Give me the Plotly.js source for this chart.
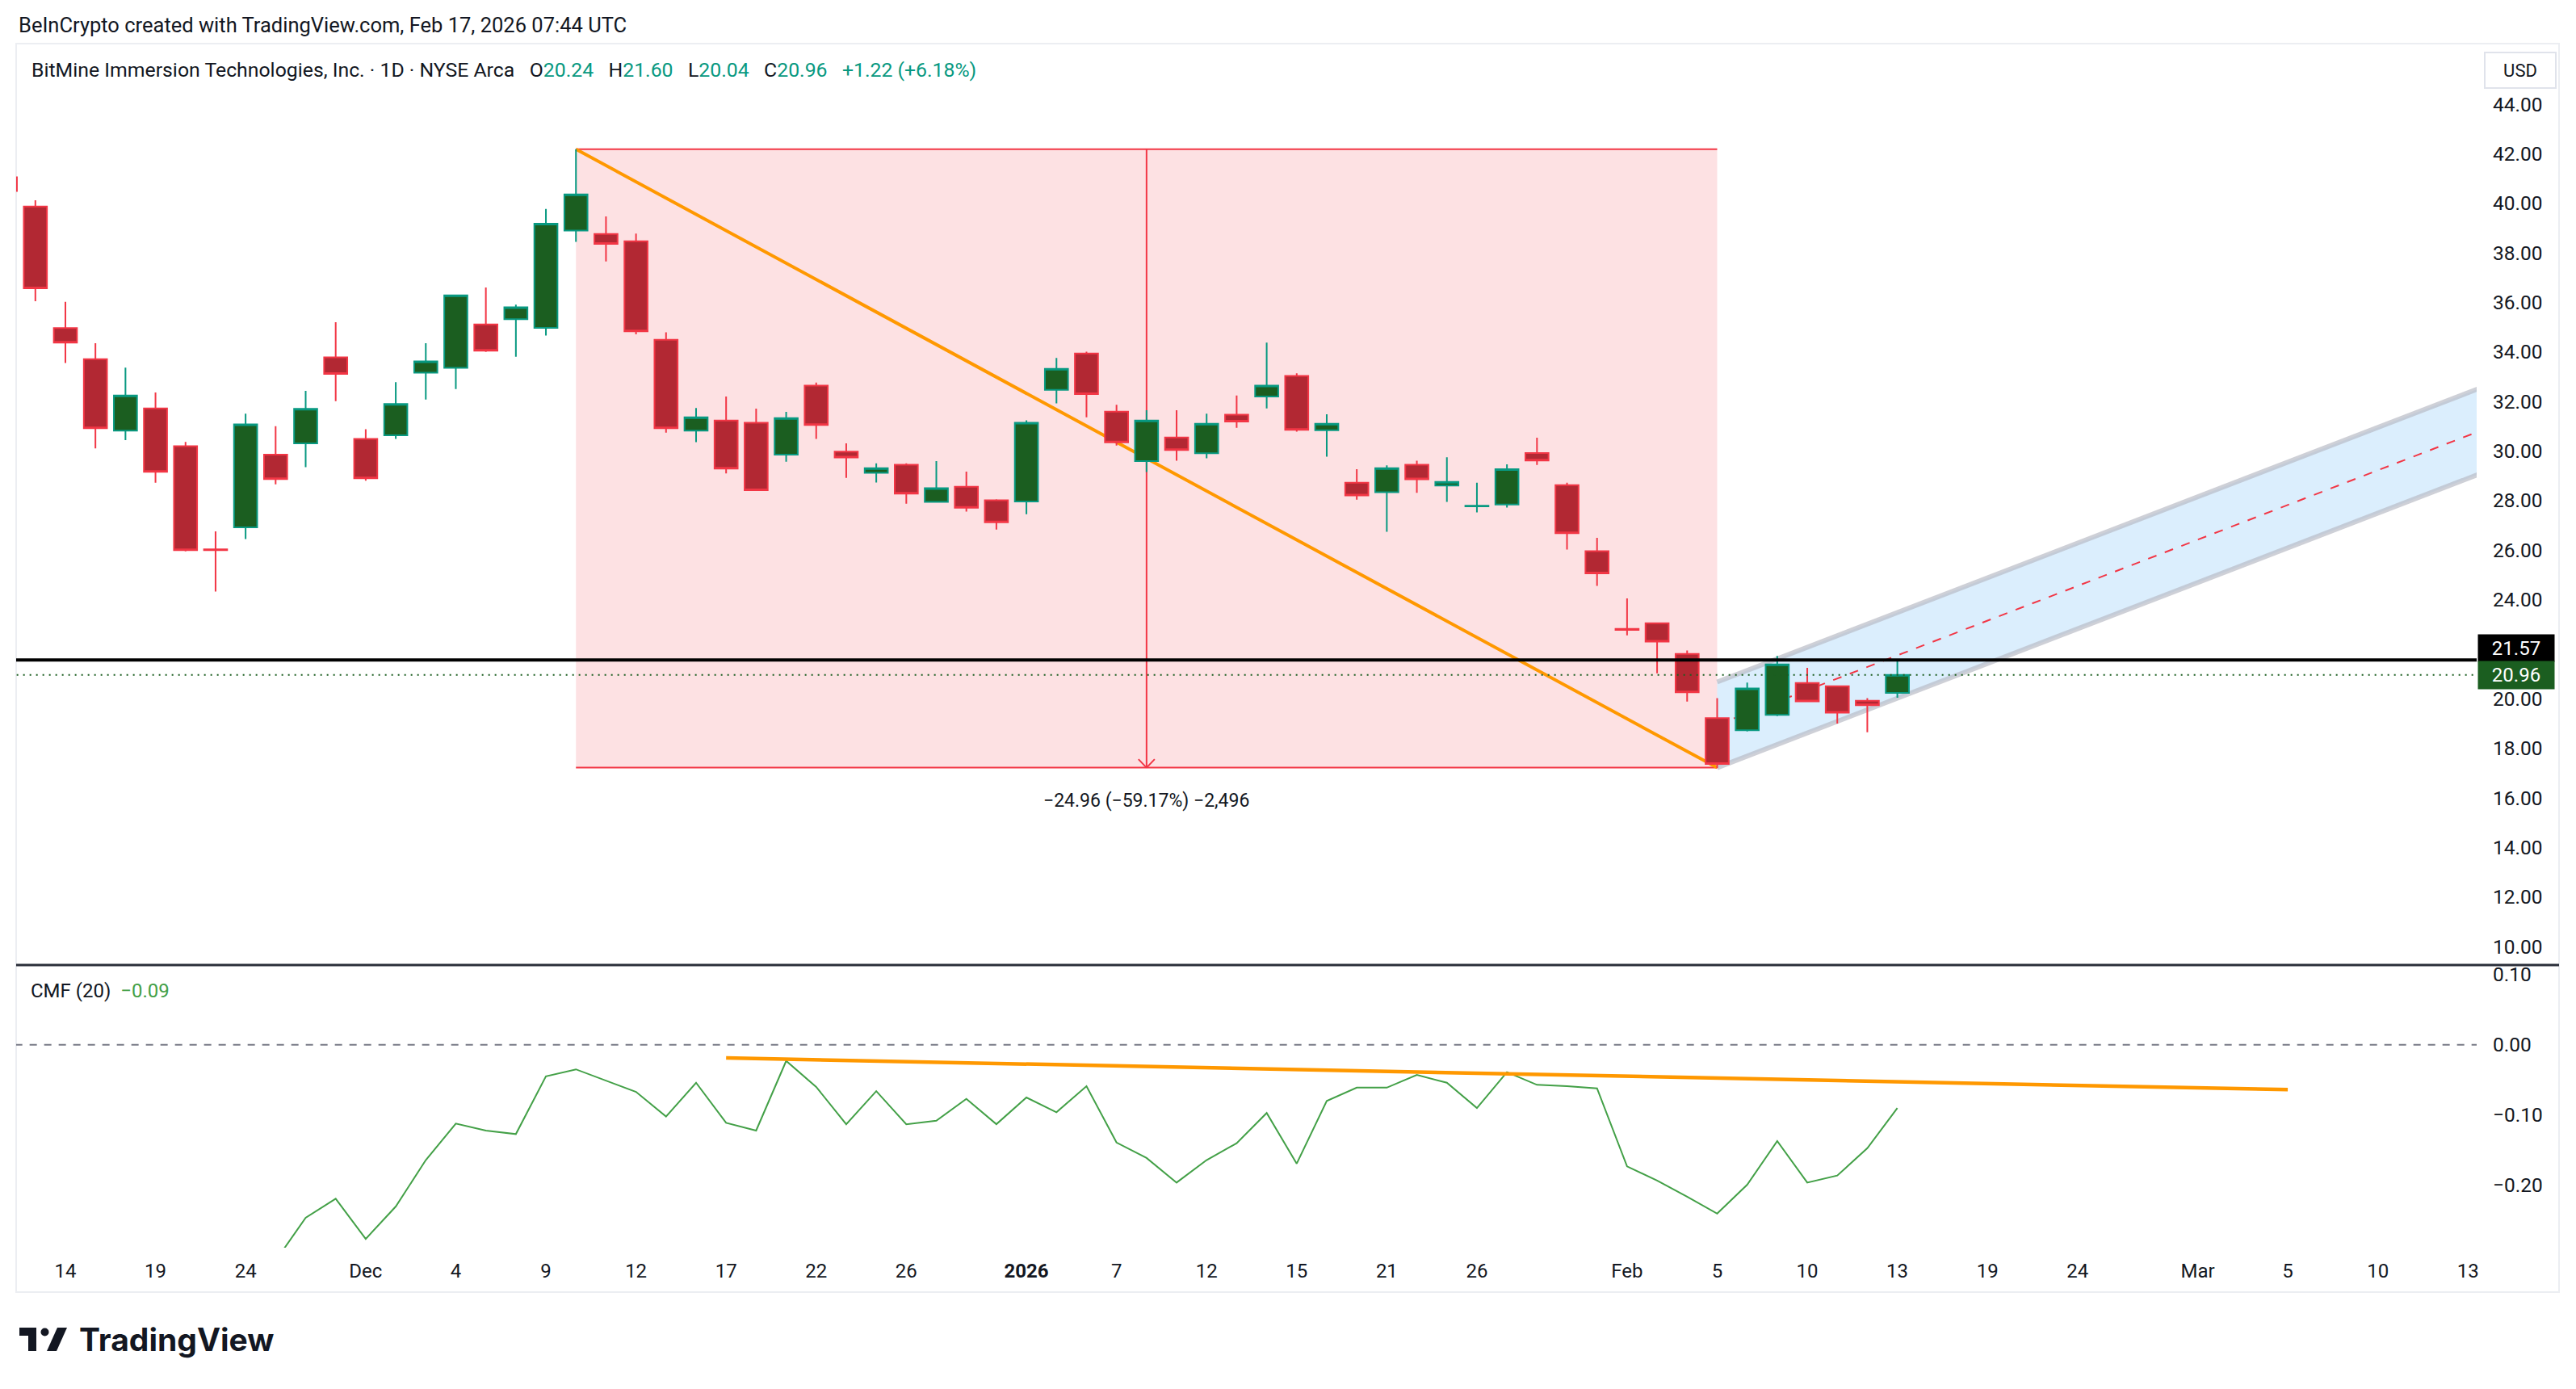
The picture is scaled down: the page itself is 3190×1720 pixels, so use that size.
<!DOCTYPE html>
<html><head><meta charset="utf-8">
<script src="https://cdn.plot.ly/plotly-3.0.1.min.js"></script>
<style>html,body{margin:0;padding:0;background:#fff;}#chart{width:3190px;height:1720px;}</style>
</head><body><div id="chart"></div>
<script>
// ---------------- data ----------------
const dates = ["2025-11-12","2025-11-13","2025-11-14","2025-11-17","2025-11-18","2025-11-19","2025-11-20","2025-11-21","2025-11-24","2025-11-25","2025-11-26","2025-11-28",
"2025-12-01","2025-12-02","2025-12-03","2025-12-04","2025-12-05","2025-12-08","2025-12-09","2025-12-10","2025-12-11","2025-12-12","2025-12-15","2025-12-16","2025-12-17","2025-12-18","2025-12-19","2025-12-22","2025-12-23","2025-12-24","2025-12-26","2025-12-29","2025-12-30","2025-12-31",
"2026-01-02","2026-01-05","2026-01-06","2026-01-07","2026-01-08","2026-01-09","2026-01-12","2026-01-13","2026-01-14","2026-01-15","2026-01-16","2026-01-20","2026-01-21","2026-01-22","2026-01-23","2026-01-26","2026-01-27","2026-01-28","2026-01-29","2026-01-30",
"2026-02-02","2026-02-03","2026-02-04","2026-02-05","2026-02-06","2026-02-09","2026-02-10","2026-02-11","2026-02-12","2026-02-13"];
const openP  = [41.05,39.87,34.96,33.71,30.82,31.72,30.20,26.03,26.92,29.85,30.31,33.78,30.49,30.64,33.16,33.36,35.11,35.32,34.97,38.90,38.76,38.47,34.49,30.82,31.23,31.14,29.85,32.64,29.98,29.12,29.45,27.95,28.56,28.01,27.96,32.47,33.94,31.59,29.59,30.55,29.91,31.47,32.20,33.03,30.84,28.72,28.34,29.45,28.61,27.77,27.84,29.92,28.62,25.96,22.82,23.05,21.81,19.22,18.73,19.35,20.64,20.51,19.92,20.24];
const highP  = [41.50,40.12,36.02,34.35,33.37,32.36,30.37,26.76,31.51,31.00,32.43,35.20,30.88,32.78,34.35,36.30,36.60,35.91,39.77,42.18,39.47,38.78,34.79,31.74,32.20,31.71,31.58,32.76,30.31,29.50,29.50,29.59,29.17,28.05,31.24,33.76,34.01,31.87,31.65,31.65,31.51,32.24,34.38,33.14,31.48,29.27,29.42,29.61,29.75,28.72,29.46,30.54,28.72,26.50,24.05,23.06,21.95,20.03,20.65,21.73,21.25,20.52,20.03,21.60];
const lowP   = [40.30,36.05,33.55,30.11,30.44,28.72,25.95,24.33,26.45,28.66,29.35,32.01,28.80,30.49,32.08,32.50,34.00,33.81,34.66,38.44,37.65,34.71,30.74,30.36,29.10,28.40,29.57,30.49,28.92,28.73,27.87,27.94,27.56,26.83,27.45,31.92,31.36,30.22,29.15,29.61,29.71,30.94,31.72,30.78,29.77,28.04,26.74,28.31,27.95,27.52,27.72,29.44,26.02,24.56,22.56,21.03,19.89,17.20,18.68,19.30,19.88,19.00,18.65,20.04];
const closeP = [40.50,36.57,34.38,30.92,32.24,29.16,26.00,26.00,31.08,28.87,31.70,33.11,28.90,31.90,33.62,36.28,34.05,35.80,39.18,40.36,38.36,34.83,30.92,31.36,29.29,28.42,31.33,31.05,29.74,29.31,28.28,28.50,27.71,27.12,31.14,33.32,32.30,30.35,31.23,30.04,31.10,31.19,32.64,30.86,31.10,28.21,29.31,28.86,28.75,27.79,29.27,29.62,26.68,25.06,22.78,22.31,20.26,17.37,20.42,21.39,19.90,19.44,19.74,20.96];

// CMF(20) values, first bar index 9
const cmfStart = 9;
const cmfValues = [-0.307,-0.246,-0.219,-0.276,-0.230,-0.164,-0.112,-0.122,-0.127,-0.045,-0.035,-0.051,-0.067,-0.102,-0.054,-0.111,-0.122,-0.023,-0.060,-0.113,-0.066,-0.113,-0.108,-0.077,-0.113,-0.075,-0.096,-0.059,-0.139,-0.161,-0.196,-0.164,-0.140,-0.097,-0.169,-0.080,-0.061,-0.061,-0.043,-0.054,-0.090,-0.039,-0.057,-0.059,-0.062,-0.173,-0.193,-0.216,-0.240,-0.199,-0.137,-0.196,-0.186,-0.147,-0.090];

// time axis (trading-day index) labels
const tickIndex = [2,5,8,12,15,18,21,24,27,30,34,37,40,43,46,49,54,57,60,63,66,69,73,76,79,82];
const tickText  = ["14","19","24","Dec","4","9","12","17","22","26","<b>2026</b>","7","12","15","21","26","Feb","5","10","13","19","24","Mar","5","10","13"];
const priceTicks = [10,12,14,16,18,20,22,24,26,28,30,32,34,36,38,40,42,44];
const cmfTicks = [-0.2,-0.1,0,0.1];

// drawings
const rangeIdx = [19,57];          // price-range box start/end bars
const rangePrice = [42.18,17.22];  // top / bottom
const trendIdx = [19,57];          // orange falling line
const trendPrice = [42.18,17.22];
const hLevel = 21.57;              // horizontal level
const channelIdx = [57,90];
const channelLow = [17.22,32.63];  // lower rail
const channelHigh = [20.68,36.09]; // upper rail
const cmfTrendIdx = [24,76];
const cmfTrendVal = [-0.0188,-0.0639];

// ---------------- build ----------------
const W=3190,H=1720;
const px=x=>x/W, py=y=>1-y/H;
const barIndex = dates.map((d,i)=>i);
const cmfIndex = cmfValues.map((v,i)=>i+cmfStart);
const last = closeP.length-1;
const FONT = "Roboto, 'Noto Sans', sans-serif";
const TXT = '#131722', UP='#089981', DN='#f23645';

const traces = [
 {type:'candlestick', x:barIndex, open:openP, high:highP, low:lowP, close:closeP, xaxis:'x', yaxis:'y',
  increasing:{line:{color:UP,width:2}, fillcolor:'#1b5e20'},
  decreasing:{line:{color:DN,width:2}, fillcolor:'#b22833'},
  whiskerwidth:0, hoverinfo:'skip', showlegend:false},
 {type:'scatter', mode:'lines', x:cmfIndex, y:cmfValues, xaxis:'x', yaxis:'y2', line:{color:'#43a047',width:2}, hoverinfo:'skip', showlegend:false},
 {type:'scatter', mode:'lines', x:cmfTrendIdx, y:cmfTrendVal, xaxis:'x', yaxis:'y2', line:{color:'#ff9800',width:4.5}, hoverinfo:'skip', showlegend:false}
];

const midIdx = (rangeIdx[0]+rangeIdx[1])/2;
const shapes = [
 // frame
 {type:'rect', xref:'paper', yref:'paper', x0:px(20), x1:px(3169), y0:py(1600), y1:py(54), line:{color:'#eceef2',width:2}, layer:'below'},
 // price range box
 {type:'rect', xref:'x', yref:'y', x0:rangeIdx[0], x1:rangeIdx[1], y0:rangePrice[1], y1:rangePrice[0], fillcolor:'rgba(242,54,69,0.15)', line:{width:0}, layer:'below'},
 {type:'line', xref:'x', yref:'y', x0:rangeIdx[0], x1:rangeIdx[1], y0:rangePrice[0], y1:rangePrice[0], line:{color:DN,width:2}, layer:'below'},
 {type:'line', xref:'x', yref:'y', x0:rangeIdx[0], x1:rangeIdx[1], y0:rangePrice[1], y1:rangePrice[1], line:{color:DN,width:2}, layer:'below'},
 {type:'line', xref:'x', yref:'y', x0:midIdx, x1:midIdx, y0:rangePrice[0], y1:rangePrice[1], line:{color:DN,width:2}, layer:'below'},
 {type:'line', xref:'x', yref:'y', x0:midIdx-0.27, x1:midIdx, y0:rangePrice[1]+0.34, y1:rangePrice[1], line:{color:DN,width:2}, layer:'below'},
 {type:'line', xref:'x', yref:'y', x0:midIdx+0.27, x1:midIdx, y0:rangePrice[1]+0.34, y1:rangePrice[1], line:{color:DN,width:2}, layer:'below'},
 // orange trend
 {type:'line', xref:'x', yref:'y', x0:trendIdx[0], x1:trendIdx[1], y0:trendPrice[0], y1:trendPrice[1], line:{color:'#ff9800',width:4}, layer:'below'},
 // channel
 {type:'path', xref:'x', yref:'y', path:`M${channelIdx[0]},${channelLow[0]} L${channelIdx[1]},${channelLow[1]} L${channelIdx[1]},${channelHigh[1]} L${channelIdx[0]},${channelHigh[0]} Z`, fillcolor:'rgba(33,150,243,0.16)', line:{width:0}, layer:'below'},
 {type:'line', xref:'x', yref:'y', x0:channelIdx[0], x1:channelIdx[1], y0:channelHigh[0], y1:channelHigh[1], line:{color:'rgba(185,188,198,0.7)',width:6}, layer:'below'},
 {type:'line', xref:'x', yref:'y', x0:channelIdx[0], x1:channelIdx[1], y0:channelLow[0], y1:channelLow[1], line:{color:'rgba(185,188,198,0.7)',width:6}, layer:'below'},
 {type:'line', xref:'x', yref:'y', x0:channelIdx[0], x1:channelIdx[1], y0:(channelLow[0]+channelHigh[0])/2, y1:(channelLow[1]+channelHigh[1])/2, line:{color:DN,width:2,dash:'11px,11px'}, layer:'below'},
 // horizontal level + last price line
 {type:'line', xref:'x', yref:'y', x0:-5, x1:95, y0:hLevel, y1:hLevel, line:{color:'#000000',width:4}, layer:'above'},
 {type:'line', xref:'x', yref:'y', x0:-5, x1:95, y0:closeP[last], y1:closeP[last], line:{color:'#1b5e20',width:2,dash:'2px,6px'}, layer:'above'},
 // CMF zero line
 {type:'line', xref:'x', yref:'y2', x0:-5, x1:95, y0:0, y1:0, line:{color:'#787b86',width:2,dash:'9px,9px'}, layer:'below'},
 // pane divider
 {type:'line', xref:'paper', yref:'paper', x0:px(20), x1:px(3169), y0:py(1195), y1:py(1195), line:{color:'#2a2e39',width:3}},
 // TradingView logo
 {type:'path', xref:'paper', yref:'paper', path:`M${px(24)},${py(1644)} H${px(45)} V${py(1673)} H${px(35)} V${py(1654)} H${px(24)} Z`, fillcolor:'#131722', line:{width:0}},
 {type:'circle', xref:'paper', yref:'paper', x0:px(50.5), x1:px(60.5), y0:py(1654.5), y1:py(1644.5), fillcolor:'#131722', line:{width:0}},
 {type:'path', xref:'paper', yref:'paper', path:`M${px(71)},${py(1644)} H${px(83)} L${px(70)},${py(1673)} H${px(58)} Z`, fillcolor:'#131722', line:{width:0}}
];

const sp = '&nbsp;&nbsp;&nbsp;';
const g = v => `<span style="color:${UP}">${v}</span>`;
const chg = closeP[last]-closeP[last-1];
const chgPct = chg/closeP[last-1]*100;
const legendText = `BitMine Immersion Technologies, Inc. · 1D · NYSE Arca${sp}O${g(openP[last].toFixed(2))}${sp}H${g(highP[last].toFixed(2))}${sp}L${g(lowP[last].toFixed(2))}${sp}C${g(closeP[last].toFixed(2))}${sp}${g((chg>=0?'+':'−')+Math.abs(chg).toFixed(2)+' ('+(chg>=0?'+':'−')+Math.abs(chgPct).toFixed(2)+'%)')}`;
const rDiff = rangePrice[1]-rangePrice[0];
const rPct = rDiff/rangePrice[0]*100;
const fmtNum = n => Math.abs(n).toLocaleString('en-US');
const rangeText = `−${Math.abs(rDiff).toFixed(2)} (−${Math.abs(rPct).toFixed(2)}%) −${fmtNum(Math.round(Math.abs(rDiff)*100))}`;
const cmfLast = cmfValues[cmfValues.length-1];

const annotations = [
 {xref:'paper', yref:'paper', x:px(21), y:py(31), xanchor:'left', yanchor:'middle', showarrow:false, text:'BeInCrypto created with TradingView.com, Feb 17, 2026 07:44 UTC', font:{family:FONT,size:25.5,color:TXT}},
 {xref:'paper', yref:'paper', x:px(37), y:py(86), xanchor:'left', yanchor:'middle', showarrow:false, text:legendText, font:{family:FONT,size:24.8,color:TXT}},
 {xref:'paper', yref:'paper', x:px(3121), y:py(87), xanchor:'center', yanchor:'middle', showarrow:false, text:'USD', width:86, height:42, bgcolor:'#ffffff', bordercolor:'#e0e3eb', borderwidth:2, borderpad:0, font:{family:FONT,size:22,color:TXT}},
 {xref:'paper', yref:'y', x:px(3068), y:hLevel, yshift:15, xanchor:'left', yanchor:'middle', showarrow:false, text:hLevel.toFixed(2), width:94, height:33, bgcolor:'#000000', borderpad:0, font:{family:FONT,size:24,color:'#ffffff'}},
 {xref:'paper', yref:'y', x:px(3068), y:closeP[last], xanchor:'left', yanchor:'middle', showarrow:false, text:closeP[last].toFixed(2), width:94, height:34, bgcolor:'#1b5e20', borderpad:0, font:{family:FONT,size:24,color:'#ffffff'}},
 {xref:'x', yref:'y', x:midIdx, y:rangePrice[1], yshift:-41, xanchor:'center', yanchor:'middle', showarrow:false, text:rangeText, font:{family:FONT,size:23,color:TXT}},
 {xref:'paper', yref:'paper', x:px(36), y:py(1227), xanchor:'left', yanchor:'middle', showarrow:false, text:`CMF (20)&nbsp;&nbsp;<span style="color:#43a047">${cmfLast<0?'−':''}${Math.abs(cmfLast).toFixed(2)}</span>`, font:{family:FONT,size:24,color:TXT}},
 {xref:'paper', yref:'paper', x:px(96), y:py(1658), xanchor:'left', yanchor:'middle', showarrow:false, text:'TradingView', font:{family:"Inter, Roboto, sans-serif",size:39,weight:700,color:'#131722'}}
];

const layout = {
 width:W, height:H, margin:{l:0,r:0,t:0,b:0}, paper_bgcolor:'#ffffff', plot_bgcolor:'#ffffff',
 showlegend:false, boxgap:0.23, boxgroupgap:0,
 font:{family:FONT,size:24,color:TXT},
 xaxis:{domain:[px(20),px(3067)], range:[0.36,82.29], anchor:'y2', tickvals:tickIndex, ticktext:tickText, ticks:'', showgrid:false, zeroline:false, showline:false, tickfont:{family:FONT,size:24,color:TXT}, ticklabelstandoff:12, rangeslider:{visible:false}, fixedrange:true},
 yaxis:{domain:[py(1195),py(55)], range:[9.254,46.412], side:'right', anchor:'x', tickvals:priceTicks, tickformat:'.2f', ticks:'', showgrid:false, zeroline:false, showline:false, ticklabelstandoff:19, tickfont:{family:FONT,size:24.5,color:TXT}, fixedrange:true},
 yaxis2:{domain:[py(1545),py(1197)], range:[-0.2885,0.111], side:'right', anchor:'x', tickvals:cmfTicks, tickformat:'.2f', ticks:'', showgrid:false, zeroline:false, showline:false, ticklabelstandoff:19, tickfont:{family:FONT,size:24.5,color:TXT}, fixedrange:true},
 shapes:shapes, annotations:annotations
};
Plotly.newPlot('chart', traces, layout, {displayModeBar:false, staticPlot:true});
</script></body></html>
